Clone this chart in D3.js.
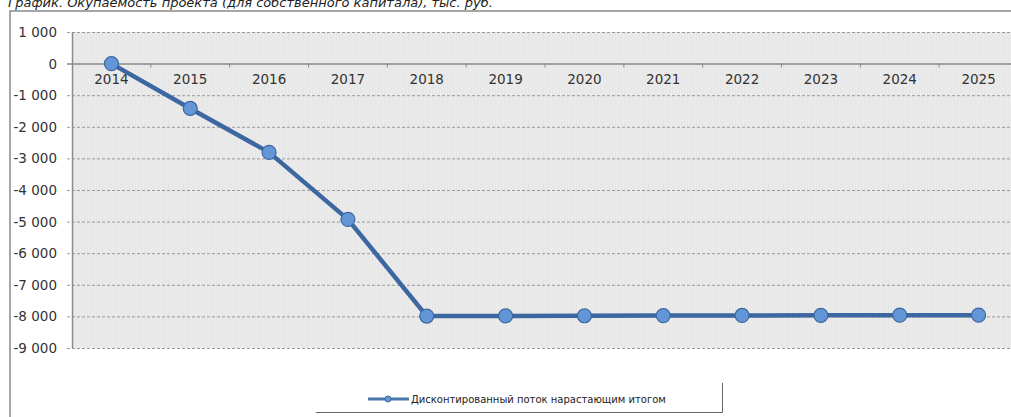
<!DOCTYPE html>
<html>
<head>
<meta charset="utf-8">
<script src="https://cdn.jsdelivr.net/npm/d3@7"></script>
<style>
    body { margin: 0; background: #fff; }
    svg { display: block; font-family: 'DejaVu Sans', Arial, sans-serif; }
</style>
</head>
<body>
<svg id="chart" width="1011" height="417"></svg>
<script>
let years = ['2014', '2015', '2016', '2017', '2018', '2019', '2020', '2021', '2022', '2023', '2024', '2025']
let flow = [0, -1420, -2810, -4930, -7990, -7985, -7980, -7975, -7970, -7965, -7960, -7960]
let y_ticks = [1000, 0, -1000, -2000, -3000, -4000, -5000, -6000, -7000, -8000, -9000]

let title = 'График. Окупаемость проекта (для собственного капитала), тыс. руб.'
let legend_label = 'Дисконтированный поток нарастающим итогом'

let pad = { 'l': 72, 'r': -7, 't': 32, 'b': 69 }
let width = 1011
let height = 417

let svg = d3.select('#chart')

let x = d3.scaleBand()
    .domain(years)
    .range([pad.l, width - pad.r])

let y = d3.scaleLinear()
    .domain([-9000, 1000])
    .range([height - pad.b, pad.t])

let fmt = v => d3.format(',')(v).replace(/,/g, '\u00a0').replace('−', '-')

// title, cut at the top like the scan
svg.append('text')
    .attr('x', 8).attr('y', 7)
    .attr('font-size', 13)
    .attr('font-style', 'italic')
    .attr('fill', '#222')
    .text(title)

// outer frame
svg.append('path')
    .attr('d', `M10,${height} V11 H${width}`)
    .attr('fill', 'none')
    .attr('stroke', '#8a8a8a')
    .attr('stroke-width', 1.5)

// plot background
svg.append('rect')
    .attr('x', pad.l).attr('y', y(1000))
    .attr('width', width - pad.l).attr('height', y(-9000) - y(1000))
    .attr('fill', '#e6e6e6')

// faint vertical texture
let tex = d3.range(pad.l + 2, width, 3)
svg.append('g').selectAll('line').data(tex).enter()
    .append('line')
    .attr('x1', d => d).attr('x2', d => d)
    .attr('y1', y(1000)).attr('y2', y(-9000))
    .attr('stroke', '#efefef')
    .attr('stroke-width', 1)

// dashed grid
svg.append('g').selectAll('line').data(y_ticks.filter(d => d !== 0)).enter()
    .append('line')
    .attr('x1', pad.l - 5).attr('x2', width)
    .attr('y1', d => y(d) + 0.5).attr('y2', d => y(d) + 0.5)
    .attr('stroke', '#9a9a9a')
    .attr('stroke-dasharray', '3,2')

// y axis line and labels
svg.append('line')
    .attr('x1', pad.l + 0.5).attr('x2', pad.l + 0.5)
    .attr('y1', y(1000)).attr('y2', y(-9000))
    .attr('stroke', '#8a8a8a')
    .attr('stroke-width', 1.5)

svg.append('g').selectAll('text').data(y_ticks).enter()
    .append('text')
    .attr('x', 57)
    .attr('y', d => y(d) + 5)
    .attr('text-anchor', 'end')
    .attr('font-size', 13.5)
    .attr('fill', '#333')
    .text(d => fmt(d))

// zero axis with ticks between categories
svg.append('line')
    .attr('x1', pad.l - 5).attr('x2', width)
    .attr('y1', y(0) + 0.5).attr('y2', y(0) + 0.5)
    .attr('stroke', '#8a8a8a')
    .attr('stroke-width', 1.5)

svg.append('g').selectAll('line').data(years.slice(1)).enter()
    .append('line')
    .attr('x1', d => x(d)).attr('x2', d => x(d))
    .attr('y1', y(0)).attr('y2', y(0) + 4)
    .attr('stroke', '#8a8a8a')

svg.append('g').selectAll('text').data(years).enter()
    .append('text')
    .attr('x', d => x(d) + x.bandwidth() / 2)
    .attr('y', y(0) + 20)
    .attr('text-anchor', 'middle')
    .attr('font-size', 13.5)
    .attr('fill', '#333')
    .text(d => d)

// series
let pts = years.map((d, i) => [x(d) + x.bandwidth() / 2, y(flow[i])])

svg.append('path')
    .attr('d', d3.line()(pts))
    .attr('fill', 'none')
    .attr('stroke', '#3c67a0')
    .attr('stroke-width', 4.5)
    .attr('stroke-linejoin', 'round')

svg.append('g').selectAll('circle').data(pts).enter()
    .append('circle')
    .attr('cx', d => d[0]).attr('cy', d => d[1])
    .attr('r', 7)
    .attr('fill', '#6296d6')
    .attr('stroke', '#3c67a0')
    .attr('stroke-width', 1.2)

// legend
let lg = svg.append('g')
lg.append('path')
    .attr('d', 'M316,412.5 H722.5 V383')
    .attr('fill', 'none')
    .attr('stroke', '#666')
    .attr('stroke-width', 1)
lg.append('line')
    .attr('x1', 368).attr('x2', 409)
    .attr('y1', 399).attr('y2', 399)
    .attr('stroke', '#4a76ae')
    .attr('stroke-width', 3)
lg.append('circle')
    .attr('cx', 388).attr('cy', 399).attr('r', 3)
    .attr('fill', '#6296d6')
    .attr('stroke', '#3c67a0')
lg.append('text')
    .attr('x', 411).attr('y', 403)
    .attr('font-size', 10)
    .attr('fill', '#222')
    .text(legend_label)
</script>
</body>
</html>
